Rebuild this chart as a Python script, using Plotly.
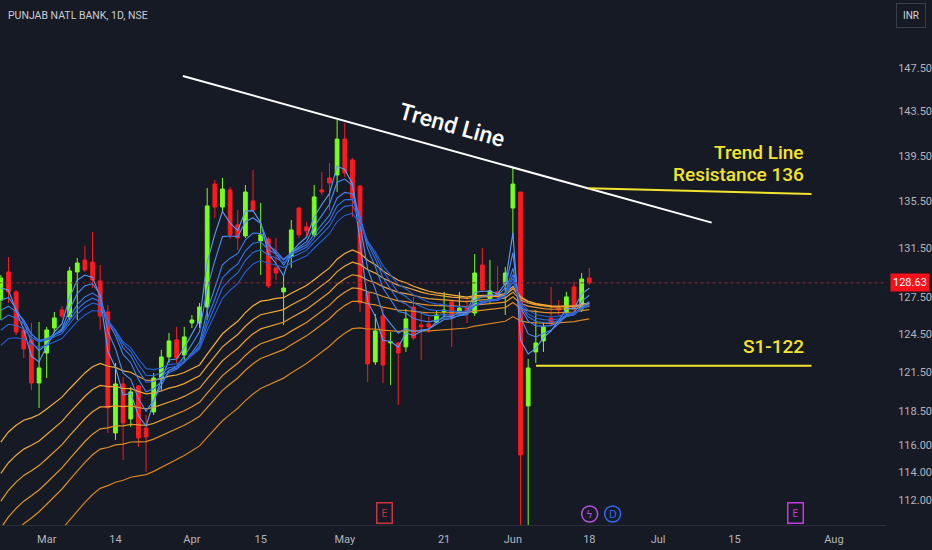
import math
import plotly.graph_objects as go

# daily bars, PNB (NSE), late Feb -> 18 Jun; x is the bar number
opens = [127.23, 129.53, 127.89, 124.82, 124.03, 120.67, 123.00, 124.98, 126.42, 125.86,
         129.53, 130.52, 130.35, 128.79, 126.26, 116.88, 120.59, 117.93, 120.44, 117.25,
         118.46, 120.98, 122.69, 124.03, 122.85, 125.38, 125.38, 126.66, 137.01, 135.01,
         136.49, 133.48, 132.54, 135.53, 132.12, 132.29, 129.86, 127.89, 130.85, 134.92,
         133.31, 132.63, 136.49, 137.54, 137.80, 140.99, 139.13, 136.83, 127.80, 122.30,
         125.94, 123.79, 123.79, 123.48, 126.66, 125.22, 125.30, 125.46, 126.26, 127.07,
         126.34, 126.58, 126.18, 130.10, 127.23, 127.89, 128.54, 134.92, 136.31, 118.91,
         123.08, 123.95, 125.78, 126.58, 126.18, 128.30, 126.50, 129.03]
highs = [129.28, 130.77, 128.05, 125.06, 125.38, 125.46, 125.06, 126.26, 126.74, 129.94,
         130.69, 131.70, 132.88, 130.10, 126.82, 122.22, 121.13, 120.36, 120.51, 118.23,
         121.44, 123.24, 124.58, 125.06, 125.06, 126.02, 126.99, 136.66, 137.36, 137.54,
         136.75, 134.75, 136.92, 138.24, 135.36, 132.46, 132.37, 129.28, 133.90, 135.01,
         133.73, 136.92, 138.06, 138.86, 142.72, 142.45, 139.31, 136.92, 127.89, 126.10,
         126.58, 124.66, 123.87, 126.50, 127.48, 126.18, 125.86, 126.42, 127.89, 127.23,
         127.89, 127.48, 131.02, 131.53, 130.52, 130.02, 129.94, 138.41, 136.31, 122.53,
         126.42, 125.46, 128.30, 127.23, 127.89, 128.71, 129.44, 129.86]
lows = [125.62, 126.99, 124.42, 122.61, 120.13, 118.76, 121.05, 124.58, 125.78, 125.62,
        125.62, 129.53, 128.21, 124.82, 116.88, 116.36, 114.88, 117.33, 115.84, 114.00,
        118.23, 120.13, 122.22, 122.22, 122.22, 124.98, 124.98, 125.62, 134.07, 134.50,
        132.29, 131.36, 132.37, 134.58, 129.28, 128.21, 128.87, 125.22, 129.86, 132.37,
        132.46, 132.46, 136.05, 134.75, 136.31, 137.63, 134.16, 126.26, 120.75, 122.06,
        120.67, 120.51, 118.99, 123.08, 124.03, 122.45, 124.58, 125.38, 125.86, 123.48,
        126.02, 125.38, 125.94, 127.89, 126.99, 127.40, 126.02, 132.46, 101.20, 104.50,
        122.22, 123.08, 125.14, 126.02, 126.10, 126.26, 126.26, 128.46]
closes = [129.03, 127.89, 124.66, 123.32, 120.67, 121.83, 124.82, 125.78, 125.94, 129.61,
          130.27, 129.69, 128.87, 125.94, 118.76, 120.59, 117.63, 119.98, 116.51, 116.58,
          121.05, 122.69, 123.95, 122.61, 124.27, 125.62, 126.66, 135.10, 135.01, 136.57,
          132.63, 132.37, 136.31, 134.75, 132.63, 128.38, 129.44, 128.21, 133.05, 132.63,
          132.97, 135.88, 136.31, 137.10, 140.99, 137.98, 135.79, 126.99, 122.14, 124.74,
          122.06, 123.87, 123.00, 125.70, 124.19, 125.06, 125.06, 126.02, 126.42, 125.86,
          126.58, 126.26, 129.44, 128.05, 127.97, 127.48, 129.44, 137.01, 115.25, 121.83,
          123.79, 125.06, 125.30, 126.42, 127.48, 126.50, 128.95, 128.63]
bars = list(range(len(closes)))

# GMMA periods and their values on the first visible bar
short_periods = [3, 5, 8, 10, 12, 15]
short_start = [128.2, 127.2, 126.4, 125.6, 124.8, 123.6]
long_periods = [30, 35, 40, 45, 50, 60]
long_start = [116.2, 113.9, 111.9, 110.0, 108.4, 105.5]

tick_bars = [6, 15, 25, 34, 45, 58, 67, 77, 86, 96, 109]
tick_text = ["Mar", "14", "Apr", "15", "May", "21", "Jun", "18", "Jul", "15", "Aug"]
price_ticks = [147.5, 143.5, 139.5, 135.5, 131.5, 127.5, 124.5, 121.5, 118.5, 116.0, 114.0, 112.0]

# drawn lines
trend_x = [23.82, 93.01]
trend_y = [146.79, 133.67]
res_x = [76.91, 106.07]
res_y = [136.63, 136.14]
sup_x = [70.03, 106.07]
sup_y = [122.0, 122.0]

BG = "#161a25"
YEL = "#f3e52c"


def ema(vals, n, start):
    a = 2.0 / (n + 1)
    out = [start]
    for v in vals[1:]:
        out.append(a * v + (1 - a) * out[-1])
    return out


blues = ["#5d9cf8", "#4d8df3", "#4281ee", "#3874e6", "#2f69de", "#275ed6"]
oranges = ["#f4ad3e", "#efa536", "#ea9d31", "#e5952b", "#df8d26", "#d88420"]

fig = go.Figure()
for n, s, c in zip(long_periods, long_start, oranges):
    fig.add_trace(go.Scatter(x=bars, y=ema(closes, n, s), mode="lines",
                             line=dict(color=c, width=1.2), hoverinfo="skip"))
for n, s, c in zip(short_periods, short_start, blues):
    fig.add_trace(go.Scatter(x=bars, y=ema(closes, n, s), mode="lines",
                             line=dict(color=c, width=1.1), hoverinfo="skip"))

fig.add_trace(go.Candlestick(
    x=bars, open=opens, high=highs, low=lows, close=closes,
    increasing=dict(line=dict(color="#77ff1c", width=1), fillcolor="#77ff1c"),
    decreasing=dict(line=dict(color="#ff1a1f", width=1), fillcolor="#ff1a1f"),
    whiskerwidth=0))

# last price line
fig.add_trace(go.Scatter(x=[-5, 130], y=[closes[-1], closes[-1]], mode="lines",
                         line=dict(color="#9b2433", width=1, dash="dot"), hoverinfo="skip"))

fig.add_trace(go.Scatter(x=trend_x, y=trend_y, mode="lines",
                         line=dict(color="#ffffff", width=2), hoverinfo="skip"))
fig.add_trace(go.Scatter(x=res_x, y=res_y, mode="lines",
                         line=dict(color=YEL, width=2), hoverinfo="skip"))
fig.add_trace(go.Scatter(x=sup_x, y=sup_y, mode="lines",
                         line=dict(color=YEL, width=2), hoverinfo="skip"))

W, H = 888.0, 525.0  # plot area in px


def px(x, y):
    return x / W, 1 - y / H


ann = []
tx, ty = px(453, 125)
ann.append(dict(x=tx, y=ty, xref="paper", yref="paper", text="Trend Line", showarrow=False,
                xanchor="center", yanchor="middle", textangle=15.5,
                font=dict(family="Roboto", size=23, color="#ffffff", weight=500)))
for label, yy in [("Trend Line", 152), ("Resistance 136", 174), ("S1-122", 346.5)]:
    ax, ay = px(808, yy)
    ann.append(dict(x=ax, y=ay, xref="paper", yref="paper", text=label, showarrow=False,
                    xanchor="right", yanchor="middle",
                    font=dict(family="Roboto", size=19, color=YEL, weight=500)))
ax, ay = px(6, 16)
ann.append(dict(x=ax, y=ay, xref="paper", yref="paper", text="PUNJAB NATL BANK, 1D, NSE",
                showarrow=False, xanchor="left", yanchor="middle",
                font=dict(family="Roboto", size=10.5, color="#c9ccd4")))
ax, ay = px(913, 15)
ann.append(dict(x=ax, y=ay, xref="paper", yref="paper", text="INR", showarrow=False,
                xanchor="center", yanchor="middle",
                font=dict(family="Roboto", size=10, color="#d1d4dc"),
                bordercolor="#3a3e4a", borderwidth=1, borderpad=6, bgcolor=BG))
ann.append(dict(x=1, y=math.log10(closes[-1]), xref="paper", yref="y",
                text="%.2f" % closes[-1], showarrow=False, xanchor="left", yanchor="middle",
                xshift=4, font=dict(family="Roboto", size=11, color="#ffffff"),
                bgcolor="#f5101c", borderpad=2))
# event badges
for letter, x, col in [("E", 385, "#c8343f"), ("E", 797, "#c23ce0")]:
    ax, ay = px(x, 513)
    ann.append(dict(x=ax, y=ay, xref="paper", yref="paper", text=letter, showarrow=False,
                    xanchor="center", yanchor="middle",
                    font=dict(family="Roboto", size=10, color=col),
                    bordercolor=col, borderwidth=1.5, borderpad=4))
shapes = []
for sym, x, col in [("ϟ", 591, "#b552e0"), ("D", 614, "#2f6bf0")]:
    x0, y0 = px(x - 8, 522)
    x1, y1 = px(x + 8, 506)
    shapes.append(dict(type="circle", xref="paper", yref="paper", x0=x0, x1=x1, y0=y0, y1=y1,
                       line=dict(color=col, width=1.5)))
    ax, ay = px(x, 514)
    ann.append(dict(x=ax, y=ay, xref="paper", yref="paper", text=sym, showarrow=False,
                    xanchor="center", yanchor="middle",
                    font=dict(family="DejaVu Sans", size=10, color=col)))

fig.update_layout(
    width=932, height=550,
    margin=dict(l=0, r=44, t=0, b=25),
    paper_bgcolor=BG, plot_bgcolor=BG,
    showlegend=False,
    annotations=ann, shapes=shapes,
    xaxis=dict(range=[-0.11, 115.82], showgrid=False, zeroline=False,
               rangeslider=dict(visible=False),
               tickmode="array", tickvals=tick_bars, ticktext=tick_text,
               ticks="outside", ticklen=4, tickcolor=BG,
               tickfont=dict(family="Roboto", size=11, color="#b2b5be"),
               showline=True, linecolor="#2a2e39", linewidth=1),
    yaxis=dict(type="log", side="right",
               range=[math.log10(110.21), math.log10(154.08)],
               showgrid=False, zeroline=False,
               tickmode="array", tickvals=price_ticks,
               ticktext=["%.2f" % v for v in price_ticks],
               ticks="outside", ticklen=9, tickcolor=BG,
               tickfont=dict(family="Roboto", size=11, color="#b2b5be")),
)

fig.write_html("out.html", config={"displayModeBar": False},
               post_script="document.body.style.margin='0px';")
